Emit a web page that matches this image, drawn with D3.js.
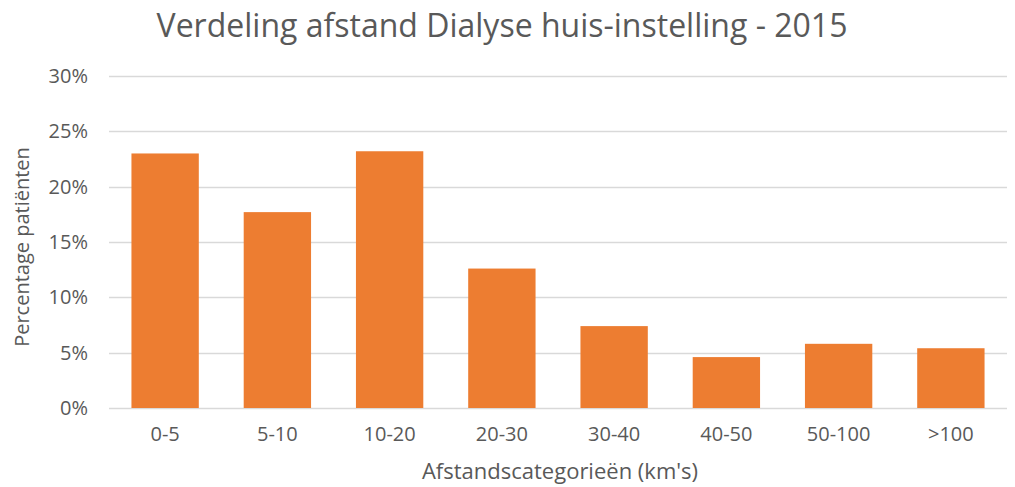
<!DOCTYPE html>
<html>
<head>
<meta charset="utf-8">
<script src="https://cdn.jsdelivr.net/npm/d3@7"></script>
<style>
  body { margin: 0; background: #fff; }
  text { font-family: "Open Sans", "Liberation Sans", sans-serif; fill: #595959; }
</style>
</head>
<body>
<div id="chart"></div>
<script>
// chart data
var categories = ["0-5", "5-10", "10-20", "20-30", "30-40", "40-50", "50-100", ">100"];
var percentages = [23.0, 17.7, 23.2, 12.6, 7.4, 4.6, 5.8, 5.4];
var yTicks = [0, 5, 10, 15, 20, 25, 30];

var width = 1015, height = 487;
var margin = {top: 76, right: 8, bottom: 79, left: 109};

var svg = d3.select("#chart").append("svg")
    .attr("width", width)
    .attr("height", height);

var x = d3.scaleBand()
    .domain(categories)
    .range([margin.left, width - margin.right])
    .paddingInner(0.4)
    .paddingOuter(0.2);

var y = d3.scaleLinear()
    .domain([0, 30])
    .range([height - margin.bottom, margin.top]);

// gridlines
svg.append("g")
    .selectAll("line")
    .data(yTicks)
    .enter().append("line")
    .attr("x1", margin.left)
    .attr("x2", width - margin.right)
    .attr("y1", function(d) { return Math.round(y(d)) + 0.5; })
    .attr("y2", function(d) { return Math.round(y(d)) + 0.5; })
    .attr("stroke", "#d9d9d9")
    .attr("stroke-width", 1.3);

// y axis labels
var yAxis = d3.axisLeft(y).tickValues(yTicks).tickSize(0).tickPadding(21)
    .tickFormat(function(d) { return d + "%"; });
svg.append("g")
    .attr("transform", "translate(" + margin.left + ",0)")
    .call(yAxis)
    .call(function(g) { g.select(".domain").remove(); })
    .selectAll("text")
    .style("font-size", "20px")
    .attr("fill", "#595959");

// bars
svg.append("g")
    .selectAll("rect")
    .data(percentages)
    .enter().append("rect")
    .attr("x", function(d, i) { return x(categories[i]); })
    .attr("y", function(d) { return y(d); })
    .attr("width", x.bandwidth())
    .attr("height", function(d) { return y(0) - y(d); })
    .attr("fill", "#ED7D31");

// x axis labels
var xAxis = d3.axisBottom(x).tickSize(0).tickPadding(19);
svg.append("g")
    .attr("transform", "translate(0," + y(0) + ")")
    .call(xAxis)
    .call(function(g) { g.select(".domain").remove(); })
    .selectAll("text")
    .style("font-size", "20px")
    .attr("fill", "#595959");

// title
svg.append("text")
    .attr("x", 502)
    .attr("y", 37)
    .attr("text-anchor", "middle")
    .style("font-size", "32px")
    .text("Verdeling afstand Dialyse huis-instelling - 2015");

// axis titles
svg.append("text")
    .attr("x", 560)
    .attr("y", 479)
    .attr("text-anchor", "middle")
    .style("font-size", "22px")
    .text("Afstandscategorieën (km's)");

svg.append("text")
    .attr("transform", "translate(29,247) rotate(-90)")
    .attr("text-anchor", "middle")
    .style("font-size", "20px")
    .text("Percentage patiënten");
</script>
</body>
</html>
